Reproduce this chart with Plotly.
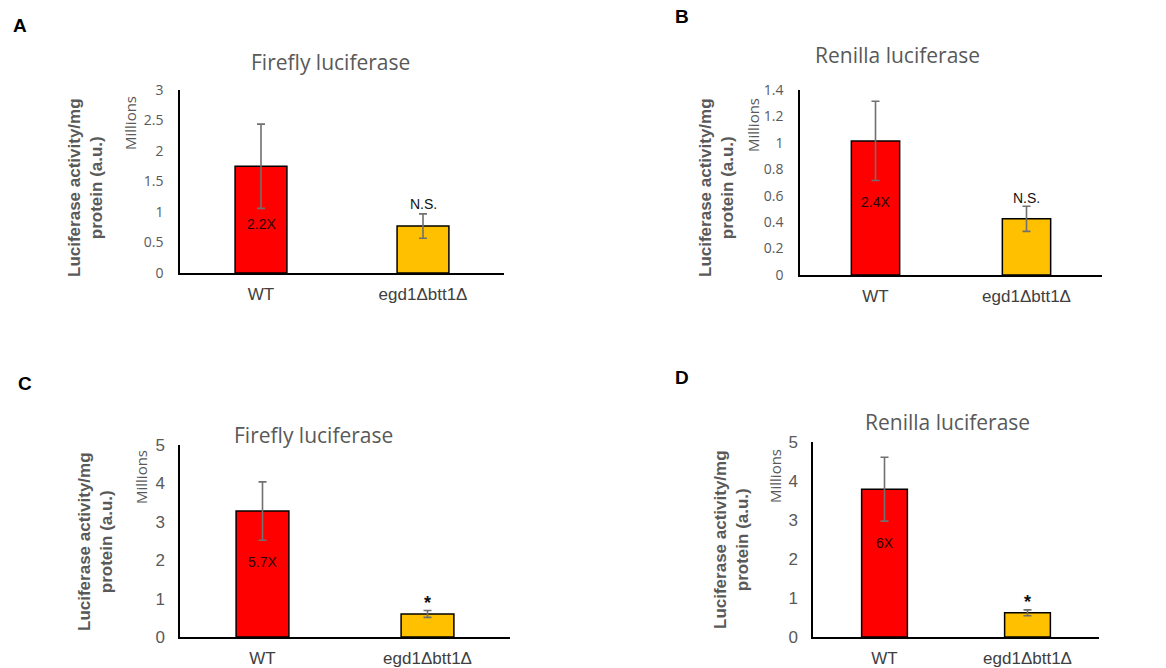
import plotly.graph_objects as go

W, H = 1166, 668

categories = ["WT", "egd1\u0394btt1\u0394"]

# Panel values (Millions)
a_values = [1.75, 0.77]
a_errors = [0.69, 0.20]
b_values = [1.015, 0.425]
b_errors = [0.30, 0.095]
c_values = [3.28, 0.60]
c_errors = [0.76, 0.09]
d_values = [3.79, 0.62]
d_errors = [0.82, 0.075]

fold_labels = ["2.2X", "2.4X", "5.7X", "6X"]
sig_labels = ["N.S.", "N.S.", "*", "*"]
titles = ["Firefly luciferase", "Renilla luciferase", "Firefly luciferase", "Renilla luciferase"]
panel_letters = ["A", "B", "C", "D"]
y_ranges = [[0, 3], [0, 1.4], [0, 5], [0, 5]]
y_dticks = [0.5, 0.2, 1, 1]

colors = ["#FF0000", "#FFC000"]

# pixel boxes for plot areas: (left, right, top, bottom)
boxes = [(180, 504, 90, 273), (800, 1102, 90, 275), (180, 510, 445, 637), (813, 1099, 442, 637)]

def px_x(p):
    return p / W

def px_y(p):
    return 1 - p / H

fig = go.Figure()
panels = [(a_values, a_errors), (b_values, b_errors), (c_values, c_errors), (d_values, d_errors)]
fold_y = [0.8, 0.55, 1.95, 2.41]
sig_y = [1.13, 0.58, 0.89, 0.90]

for i, (vals, errs) in enumerate(panels):
    n = i + 1
    xa = "x" if n == 1 else f"x{n}"
    ya = "y" if n == 1 else f"y{n}"
    fig.add_trace(go.Bar(
        x=categories, y=vals, xaxis=xa, yaxis=ya,
        marker=dict(color=colors, line=dict(color="black", width=1.5)),
        width=0.32,
        error_y=dict(type="data", array=errs, visible=True, color="#707070", thickness=1.6, width=4),
        showlegend=False, hoverinfo="skip",
    ))
    l, r, t, b = boxes[i]
    big = i >= 2
    tick_font = dict(family="Liberation Sans, Arial", size=17, color="#595959") if big else \
        dict(family="Open Sans, sans-serif", size=14, color="#595959")
    fig.layout[f"xaxis{'' if n == 1 else n}"] = dict(
        domain=[px_x(l), px_x(r)], anchor=ya, type="category", range=[-0.5, 1.5],
        showline=True, linecolor="black", linewidth=1.5, showgrid=False, zeroline=False,
        ticks="", tickfont=dict(family="Liberation Sans, Arial", size=17, color="#404040"),
        ticklabelstandoff=5, automargin=False,
    )
    fig.layout[f"yaxis{'' if n == 1 else n}"] = dict(
        domain=[px_y(b), px_y(t)], anchor=xa, range=y_ranges[i], dtick=y_dticks[i],
        showline=True, linecolor="black", linewidth=1.5, showgrid=False, zeroline=False,
        ticks="", tickfont=tick_font, ticklabelstandoff=12 if not big else 10, automargin=False,
    )
    # fold-change label inside WT bar
    fig.add_annotation(x=categories[0], y=fold_y[i], xref=xa, yref=ya, text=fold_labels[i],
                       showarrow=False, font=dict(family="Liberation Sans, Arial", size=14, color="#2a0000"))
    # significance label
    if sig_labels[i] == "*":
        fig.add_annotation(x=categories[1], y=sig_y[i], xref=xa, yref=ya, text="<b>*</b>",
                           showarrow=False, font=dict(family="Liberation Sans, Arial", size=18, color="#111111"))
    else:
        fig.add_annotation(x=categories[1], y=sig_y[i], xref=xa, yref=ya, text="N.S.",
                           showarrow=False, font=dict(family="Liberation Sans, Arial", size=14, color="#111111"))

# titles
title_pos = [(330, 62), (897, 55), (313, 435), (947, 422)]
for (x, y), t in zip(title_pos, titles):
    fig.add_annotation(x=px_x(x), y=px_y(y), xref="paper", yref="paper", text=t, showarrow=False,
                       xanchor="center", yanchor="middle",
                       font=dict(family="Open Sans, sans-serif", size=21, color="#595959"))

# panel letters
letter_pos = [(20, 25), (682, 17), (25, 383), (682, 377)]
for (x, y), t in zip(letter_pos, panel_letters):
    fig.add_annotation(x=px_x(x), y=px_y(y), xref="paper", yref="paper", text=f"<b>{t}</b>",
                       showarrow=False, xanchor="center", yanchor="middle",
                       font=dict(family="Liberation Sans, Arial", size=19, color="black"))

# y titles
ytitle_pos = [(85, 188), (716, 188), (95, 542), (731, 540)]
for x, y in ytitle_pos:
    fig.add_annotation(x=px_x(x), y=px_y(y), xref="paper", yref="paper",
                       text="<b>Luciferase activity/mg<br>protein (a.u.)</b>", textangle=-90,
                       showarrow=False, xanchor="center", yanchor="middle",
                       font=dict(family="Liberation Sans, Arial", size=17, color="#595959"))

# Millions labels
mill_pos = [(130, 123), (753, 125), (141, 477), (775, 476)]
for x, y in mill_pos:
    fig.add_annotation(x=px_x(x), y=px_y(y), xref="paper", yref="paper", text="Millions",
                       textangle=-90, showarrow=False, xanchor="center", yanchor="middle",
                       font=dict(family="Open Sans, sans-serif", size=15, color="#595959"))

fig.update_layout(width=W, height=H, margin=dict(l=0, r=0, t=0, b=0, autoexpand=False),
                  plot_bgcolor="white", paper_bgcolor="white", bargap=0.68)

fig.write_html("out.html", config={"displayModeBar": False},
               post_script="document.body.style.margin='0';document.body.style.overflow='hidden';")
